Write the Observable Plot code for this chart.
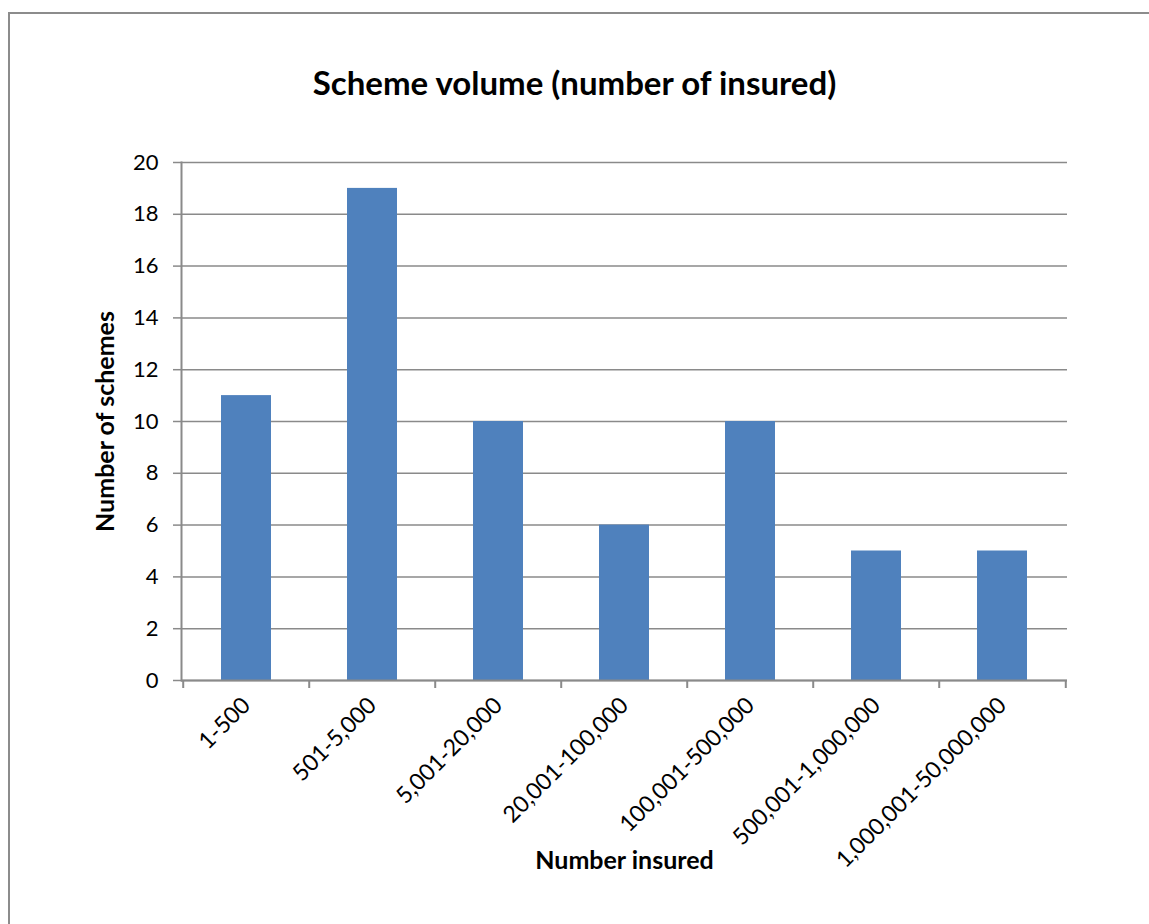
<!DOCTYPE html>
<html>
<head>
<meta charset="utf-8">
<script src="https://cdn.jsdelivr.net/npm/d3@7"></script>
<script src="https://cdn.jsdelivr.net/npm/@observablehq/plot@0.6"></script>
<style>
  html, body { margin: 0; padding: 0; background: #fff; }
  body { width: 1149px; height: 924px; position: relative; overflow: hidden; font-family: Lato, "Liberation Sans", sans-serif; }
  #frame { position: absolute; left: 8px; top: 12px; width: 1145px; height: 930px; border: 2px solid #8c8c8c; box-sizing: border-box; }
  #title { position: absolute; left: 0; width: 1149px; top: 62px; line-height: 40px; text-align: center; font-weight: bold; font-size: 33px; color: #000; }
  #chart { position: absolute; left: 0; top: 0; }
</style>
</head>
<body>
<div id="frame"></div>
<div id="chart"></div>
<div id="title">Scheme volume (number of insured)</div>
<script>
const categories = ["1-500", "501-5,000", "5,001-20,000", "20,001-100,000", "100,001-500,000", "500,001-1,000,000", "1,000,001-50,000,000"];
const counts = [11, 19, 10, 6, 10, 5, 5];
const yTicks = [0, 2, 4, 6, 8, 10, 12, 14, 16, 18, 20];

const data = categories.map((c, i) => ({category: c, count: counts[i]}));

const W = 1149, H = 924;
const mL = 181, mR = 82, mT = 162, mB = 244;
const bw = (W - mL - mR) / categories.length;
const gray = "#8a8a8a";

const chart = Plot.plot({
  width: W,
  height: H,
  marginLeft: mL,
  marginRight: mR,
  marginTop: mT,
  marginBottom: mB,
  style: {fontFamily: "Lato, 'Liberation Sans', sans-serif", color: "#000", background: "transparent"},
  x: {domain: categories, paddingInner: 0.6, paddingOuter: 0.3, label: null},
  y: {domain: [0, 20], label: null},
  marks: [
    Plot.gridY(yTicks, {stroke: gray, strokeOpacity: 1, strokeWidth: 1.5}),
    Plot.barY(data, {x: "category", y: "count", fill: "#4F81BD"}),
    Plot.ruleY([0], {stroke: gray, strokeWidth: 2}),
    Plot.frame({anchor: "left", stroke: gray, strokeWidth: 2}),
    Plot.axisY(yTicks, {tickSize: 8, tickPadding: 15, fontSize: 22, stroke: gray, strokeWidth: 1.5, label: null}),
    Plot.ruleX(categories, {x: d => d, dx: -bw / 2, y1: 0, y2: -0.31, stroke: gray, strokeWidth: 2, clip: false}),
    Plot.ruleX(categories.slice(-1), {x: d => d, dx: bw / 2, y1: 0, y2: -0.31, stroke: gray, strokeWidth: 2, clip: false}),
    Plot.axisX({tickSize: 0, tickPadding: 21, tickRotate: -45, fontSize: 23, label: null}),
    Plot.text(["Number of schemes"], {frameAnchor: "left", textAnchor: "middle", dx: -76, rotate: -90, fontWeight: "bold", fontSize: 25}),
    Plot.text(["Number insured"], {frameAnchor: "bottom", dy: 188, fontWeight: "bold", fontSize: 25})
  ]
});
document.getElementById("chart").appendChild(chart);
</script>
</body>
</html>
